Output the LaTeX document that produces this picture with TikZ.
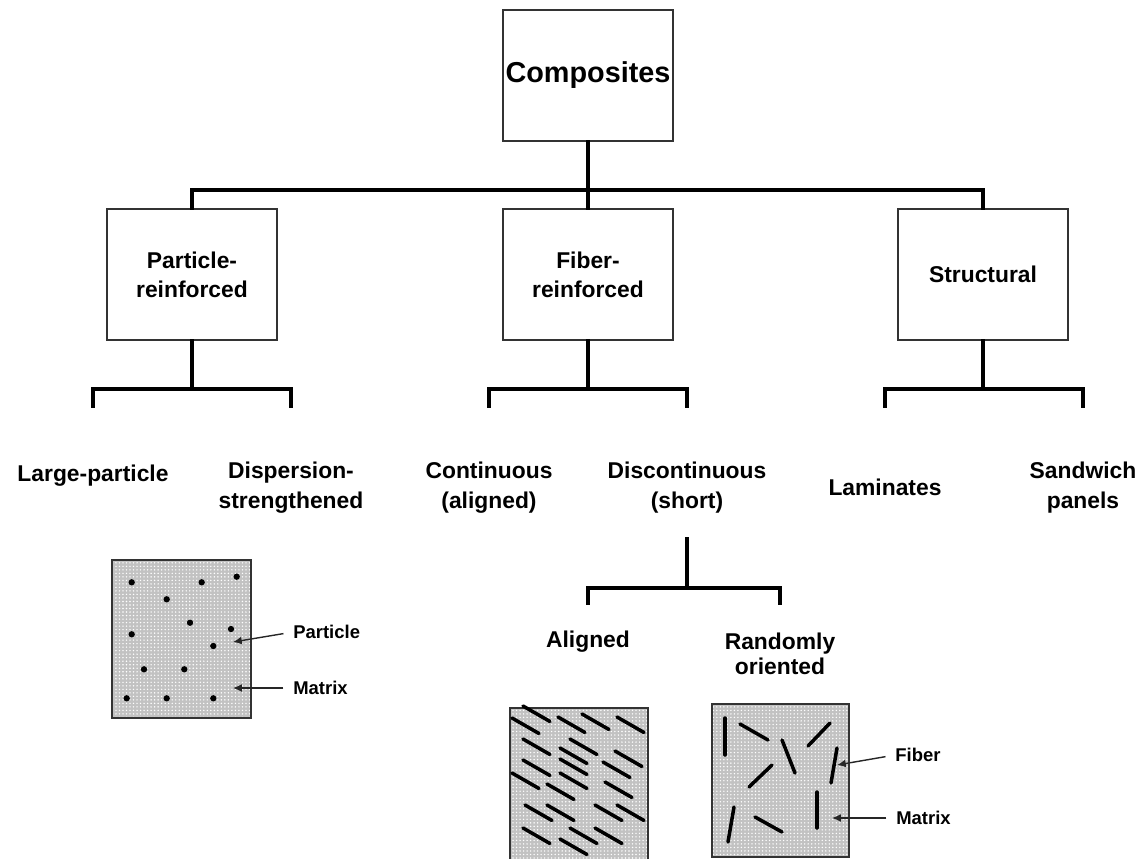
\documentclass[tikz,border=0pt]{standalone}
\usepackage{fontspec}
\setmainfont{Liberation Sans}
\usetikzlibrary{arrows.meta,patterns.meta}

\begin{document}
\begin{tikzpicture}[x=0.02cm,y=-0.02cm,
  box/.style={draw=black!80,line width=0.7pt,minimum width=3.4cm,minimum height=2.62cm,
    inner sep=0pt,align=center,font=\bfseries\fontsize{13}{16.5}\selectfont},
  topbox/.style={box,font=\bfseries\fontsize{16.4}{20}\selectfont},
  conn/.style={line width=2.2pt,line cap=rect},
  lab/.style={align=center,inner sep=0pt,font=\bfseries\fontsize{13}{17}\selectfont},
  small/.style={anchor=west,inner sep=0pt,font=\bfseries\fontsize{10.5}{12}\selectfont},
  ptr/.style={-{Latex[length=5pt,width=4.5pt]},line width=0.8pt,draw=black!85,shorten <=5.5pt},
  sample/.style={draw=black!80,line width=0.7pt,fill=black!24},
  grain/.style={pattern={Dots[distance=2pt,radius=0.45pt]},pattern color=white},
  fiber/.style={line width=2pt,line cap=round},
  particle/.style={fill=black}]

\useasboundingbox (0,0) rectangle (1148,858);
\clip (0,0) rectangle (1148,858);

% ---- tree boxes ----
\node[topbox] (comp) at (588,75.5) {Composites};
\node[box] (part) at (192,274.5) {Particle-\\reinforced};
\node[box] (fib)  at (588,274.5) {Fiber-\\reinforced};
\node[box] (struc) at (983,274.5) {Structural};

\coordinate (hub) at (588,190);
\draw[conn] (comp.south) -- (hub);
\draw[conn] (part.north) |- (hub) -| (struc.north);
\draw[conn] (hub) -- (fib.north);

% ---- second level brackets ----
\coordinate (pj) at (192,389);
\coordinate (pl) at (93,406);
\coordinate (pr) at (291,406);
\draw[conn] (part.south) -- (pj);
\draw[conn] (pl) |- (pj) -| (pr);

\coordinate (fj) at (588,389);
\coordinate (fl) at (489,406);
\coordinate (fr) at (687,406);
\draw[conn] (fib.south) -- (fj);
\draw[conn] (fl) |- (fj) -| (fr);

\coordinate (sj) at (983,389);
\coordinate (sl) at (885,406);
\coordinate (sr) at (1083,406);
\draw[conn] (struc.south) -- (sj);
\draw[conn] (sl) |- (sj) -| (sr);

% ---- second level labels ----
\node[lab] (large) at (93,476) {Large-particle};
\node[lab] (disp)  at (291,488) {Dispersion-\\strengthened};
\node[lab] (cont)  at (489,488) {Continuous\\(aligned)};
\node[lab] (disc)  at (687,488) {Discontinuous\\(short)};
\node[lab] (lam)   at (885,487) {Laminates};
\node[lab] (sand)  at (1083,488) {Sandwich\\panels};

% ---- discontinuous sub-branch ----
\coordinate (dtop) at (687,539);
\coordinate (dj) at (687,588);
\coordinate (dl) at (588,603);
\coordinate (dr) at (780,603);
\draw[conn] (dtop) -- (dj);
\draw[conn] (dl) |- (dj) -| (dr);

\node[lab] (alig) at (588,642) {Aligned};
\node[lab,font=\bfseries\fontsize{13}{14.5}\selectfont] (rand) at (780,654) {Randomly\\oriented};

% ---- particle-reinforced sample ----
\filldraw[sample] (112,560) rectangle (251,718);
\fill[grain] (112,560) rectangle (251,718);
\draw[draw=black!80,line width=0.7pt] (112,560) rectangle (251,718);
\foreach \px/\py in {131.7/582.3,201.7/582.3,236.7/576.7,166.7/599.3,190/622.7,
    131.7/634.3,231/629,213.3/646,144/669.3,184.3/669.3,126.7/698.3,166.7/698.3,213.3/698.3}
  \fill[particle] (\px,\py) circle (1.8pt);

\node[small] (plab) at (293,632) {Particle};
\node[small] (mlab) at (293,688) {Matrix};
\coordinate (ptip) at (233,642);
\coordinate (mtip) at (233,688);
\draw[ptr] (plab.west) -- (ptip);
\draw[ptr] (mlab.west) -- (mtip);

% ---- aligned short fibers ----
\filldraw[sample] (510,708) rectangle (648,870);
\fill[grain] (510,708) rectangle (648,870);
\draw[draw=black!80,line width=0.7pt] (510,708) rectangle (648,870);
\foreach \ax/\ay in {523/706,512/718,558/717,582/714,617/717,523/739,570/739,560/748,
    615/751,560/759,603/762,523/760,512/773,560/773,547/784,605/782,525/805,547/805,
    595/805,617/805,523/828,570/828,595/828,560/839}
  \draw[fiber] (\ax,\ay) -- ++(27,15.5);

% ---- randomly oriented short fibers ----
\filldraw[sample] (712,704) rectangle (849,857);
\fill[grain] (712,704) rectangle (849,857);
\draw[draw=black!80,line width=0.7pt] (712,704) rectangle (849,857);
\foreach \xa/\ya/\xb/\yb in {725/718/725/755, 740/724/768/740, 782/740/795/773,
    808/746/830/723, 837/748/831/783, 772/765/749/787, 817/792/817/828,
    734/807/728/842, 755/817/782/832}
  \draw[fiber] (\xa,\ya) -- (\xb,\yb);

\node[small] (flab) at (895,755) {Fiber};
\node[small] (rmlab) at (896,818) {Matrix};
\coordinate (ftip) at (837,765);
\coordinate (rmtip) at (832,818);
\draw[ptr] (flab.west) -- (ftip);
\draw[ptr] (rmlab.west) -- (rmtip);
\end{tikzpicture}
\end{document}
